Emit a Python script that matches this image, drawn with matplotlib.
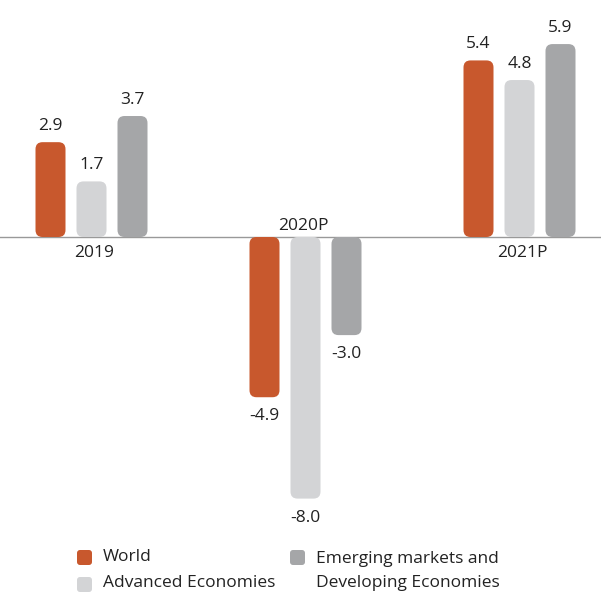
import numpy as np
import matplotlib.pyplot as plt
from matplotlib.patches import FancyBboxPatch

plt.rcParams['font.family'] = ['Open Sans', 'DejaVu Sans']

# data
years = ['2019', '2020P', '2021P']
series = ['World', 'Advanced Economies', 'Emerging markets and\nDeveloping Economies']
world = [2.9, -4.9, 5.4]
advanced = [1.7, -8.0, 4.8]
emerging = [3.7, -3.0, 5.9]
colors = ['#C8582D', '#D3D4D6', '#A5A6A8']
text_col = '#222222'

W, H = 601, 592
fig = plt.figure(figsize=(W / 100, H / 100), dpi=100)
ax = fig.add_axes([0, 0, 1, 1])

# scales: ~214 px per group, 32.7 px per unit, baseline 237 px from top
px_x = 214.0
px_y = 32.7
x0 = 91.5
base = H - 237.0
ax.set_xlim(-x0 / px_x, (W - x0) / px_x)
ax.set_ylim(-base / px_y, (H - base) / px_y)
ax.axis('off')

x = np.arange(len(years))
off = 41 / px_x
bw = 30 / px_x
r_px = 7
aspect = (1 / px_y) / (1 / px_x)
fs = 12.5

for i, (vals, c) in enumerate(zip([world, advanced, emerging], colors)):
    xs = x + (i - 1) * off
    for xi, v in zip(xs, vals):
        y0 = min(0, v)
        h = abs(v)
        p = FancyBboxPatch((xi - bw / 2, y0), bw, h,
                           boxstyle=f'round,pad=0,rounding_size={r_px / px_x}',
                           mutation_aspect=aspect, fc=c, ec='none', zorder=2)
        ax.add_patch(p)
        if v >= 0:
            ax.text(xi, v + 8 / px_y, f'{v:.1f}', ha='center', va='bottom',
                    fontsize=fs, color=text_col)
        else:
            ax.text(xi, v - 11 / px_y, f'{v:.1f}', ha='center', va='top',
                    fontsize=fs, color=text_col)

ax.axhline(0, color='#999999', lw=1, zorder=1)

for xi, yr, v in zip(x, years, world):
    if v >= 0:
        ax.text(xi + 3 / px_x, -8 / px_y, yr, ha='center', va='top', fontsize=fs, color=text_col)
    else:
        ax.text(xi - 2 / px_x, 3 / px_y, yr, ha='center', va='bottom', fontsize=fs, color=text_col)

# legend drawn by hand
leg = [(77, 550, 0, 103, 557), (77, 577, 1, 103, 583), (290, 550, 2, 316, 571)]
for sx, sy, k, tx, ty in leg:
    sq = FancyBboxPatch((sx / W, 1 - (sy + 15) / H), 15 / W, 15 / H,
                        boxstyle=f'round,pad=0,rounding_size={3 / W}',
                        mutation_aspect=W / H, fc=colors[k], ec='none',
                        transform=fig.transFigure)
    fig.add_artist(sq)
    fig.text(tx / W, 1 - ty / H, series[k], ha='left', va='center',
             fontsize=fs, color=text_col, linespacing=1.65)

fig.savefig('out.png', dpi=100)
